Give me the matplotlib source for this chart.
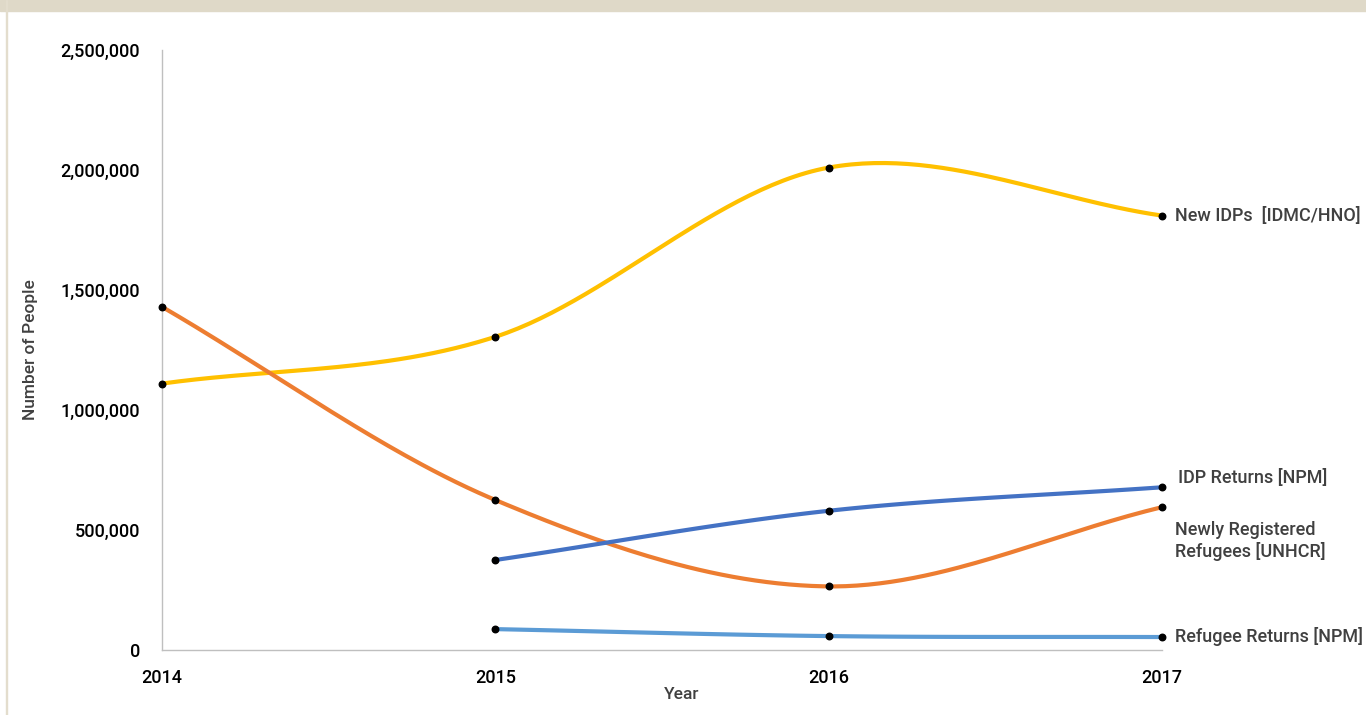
import numpy as np
import matplotlib
matplotlib.use("Agg")
import matplotlib.pyplot as plt
from matplotlib.ticker import FuncFormatter
from matplotlib.patches import Rectangle

plt.rcParams['font.family'] = ['Roboto', 'DejaVu Sans']
plt.rcParams['font.weight'] = 'medium'

years = [2014, 2015, 2016, 2017]
new_idps = [1110000, 1305000, 2010000, 1810000]
new_refugees = [1430000, 625000, 265000, 595000]
idp_returns = [375000, 580000, 678000]
refugee_returns = [87000, 58000, 54000]
ret_years = [2015, 2016, 2017]

series = [
    (years, new_idps, '#FFC000', "New IDPs  [IDMC/HNO]", 216, 1175),
    (years, new_refugees, '#ED7D31', "Newly Registered\nRefugees [UNHCR]", 541, 1175),
    (ret_years, idp_returns, '#4472C4', "IDP Returns [NPM]", 478, 1178),
    (ret_years, refugee_returns, '#5B9BD5', "Refugee Returns [NPM]", 637, 1175),
]


def smooth(xs, ys, n=60):
    # catmull-rom, close to excel's smoothed line
    x = np.asarray(xs, float)
    y = np.asarray(ys, float)
    px = np.concatenate([[2 * x[0] - x[1]], x, [2 * x[-1] - x[-2]]])
    py = np.concatenate([[2 * y[0] - y[1]], y, [2 * y[-1] - y[-2]]])
    out_x, out_y = [], []
    t = np.linspace(0, 1, n)
    for i in range(1, len(px) - 2):
        for p, o in ((px, out_x), (py, out_y)):
            p0, p1, p2, p3 = p[i - 1], p[i], p[i + 1], p[i + 2]
            v = 0.5 * ((2 * p1) + (-p0 + p2) * t
                       + (2 * p0 - 5 * p1 + 4 * p2 - p3) * t ** 2
                       + (-p0 + 3 * p1 - 3 * p2 + p3) * t ** 3)
            o.extend(v)
    return np.array(out_x), np.array(out_y)


W, H = 1366, 715
fig = plt.figure(figsize=(W / 100, H / 100), dpi=100)
fig.patches.append(Rectangle((0, 1 - 11 / H), 1, 11 / H, transform=fig.transFigure,
                             color='#DFD9C8', zorder=0))
fig.patches.append(Rectangle((5.5 / W, 0), 1.2 / W, 1, transform=fig.transFigure,
                             color='#E3DDCD', zorder=0))

ax = fig.add_axes([162 / W, 65 / H, 1000 / W, 600 / H])

for xs, ys, color, label, ly, lx in series:
    sx, sy = smooth(xs, ys)
    ax.plot(sx, sy, color=color, lw=3, solid_capstyle='round', zorder=2)
    ax.scatter(xs, ys, s=22, color='black', zorder=3, clip_on=False)
    fig.text(lx / W, 1 - ly / H, label, fontsize=13, color='#404040',
             fontweight='medium', va='center', ha='left', linespacing=1.2)

ax.set_xlim(2014, 2017)
ax.set_ylim(0, 2500000)
ax.set_xticks(years)
ax.set_yticks(np.arange(0, 2500001, 500000))
ax.yaxis.set_major_formatter(FuncFormatter(lambda v, p: f"{int(v):,}"))
ax.tick_params(length=0, labelsize=13, labelcolor='black')
ax.tick_params(axis='y', pad=16)
ax.tick_params(axis='x', pad=14)
for s in ('top', 'right'):
    ax.spines[s].set_visible(False)
for s in ('left', 'bottom'):
    ax.spines[s].set_color('#BFBFBF')
    ax.spines[s].set_linewidth(1)

ax.set_ylabel("Number of People", fontsize=12.5, color='#404040',
              fontweight='medium', labelpad=16)
ax.set_xlabel("Year", fontsize=12.5, color='#404040', fontweight='medium')
ax.xaxis.set_label_coords(0.52, -0.062)

fig.savefig("out.png", dpi=100)
